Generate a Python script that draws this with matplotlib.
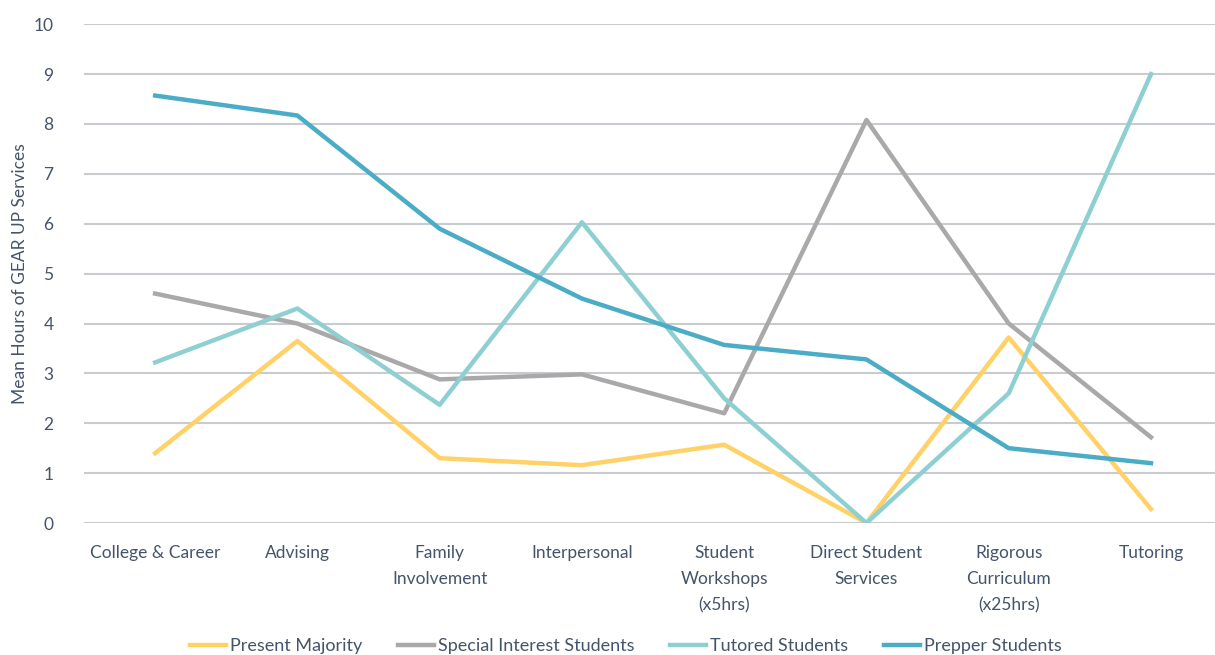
import matplotlib.pyplot as plt

plt.rcParams['font.family'] = ['Lato', 'DejaVu Sans']

# categories on the x axis
categories = ['College & Career', 'Advising', 'Family\nInvolvement', 'Interpersonal',
              'Student\nWorkshops\n(x5hrs)', 'Direct Student\nServices',
              'Rigorous\nCurriculum\n(x25hrs)', 'Tutoring']

# series values
present_majority = [1.40, 3.65, 1.30, 1.16, 1.57, 0.0, 3.72, 0.28]
special_interest = [4.60, 4.00, 2.88, 2.98, 2.20, 8.08, 4.00, 1.72]
tutored = [3.22, 4.30, 2.37, 6.03, 2.50, 0.0, 2.60, 9.00]
prepper = [8.57, 8.17, 5.90, 4.50, 3.57, 3.28, 1.50, 1.20]

text_col = '#44546A'

fig = plt.figure(figsize=(12.15, 6.55), dpi=100)
ax = fig.add_axes([84/1215, 0.2015, 1 - 84/1215, 0.963 - 0.2015])

x = range(len(categories))
ax.plot(x, present_majority, color='#FFD166', lw=3.2, label='Present Majority')
ax.plot(x, special_interest, color='#A9A9A9', lw=3.2, label='Special Interest Students')
ax.plot(x, tutored, color='#8ECFD2', lw=3.2, label='Tutored Students')
ax.plot(x, prepper, color='#4BACC6', lw=3.2, label='Prepper Students')

ax.set_xlim(-0.5, 7.45)
ax.set_ylim(0, 10)
ax.set_yticks(range(0, 11))
ax.set_xticks(list(x))
ax.set_xticklabels(categories, linespacing=1.75)
ax.grid(axis='y', color='#C8CBD0', lw=1.5)
ax.set_axisbelow(True)
for s in ax.spines.values():
    s.set_visible(False)
ax.tick_params(length=0, labelsize=12.5, colors=text_col)
ax.tick_params(axis='y', pad=22)
ax.tick_params(axis='x', pad=16)

ax.set_ylabel('Mean Hours of GEAR UP Services', fontsize=12.5, color=text_col, labelpad=4)

fig.legend(loc='center', bbox_to_anchor=(0.515, 0.013), ncol=4, frameon=False,
           fontsize=13, handlelength=2.0, columnspacing=2.0, handletextpad=0.2,
           labelcolor=text_col)

fig.savefig('out.png', dpi=100)
